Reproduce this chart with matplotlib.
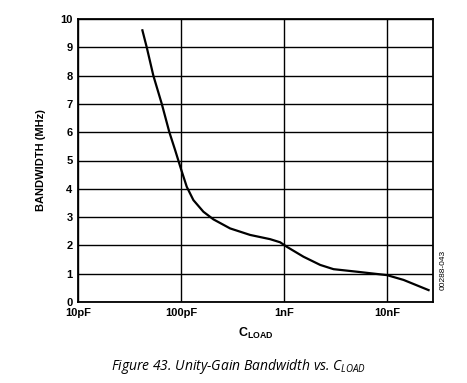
import matplotlib
matplotlib.use("Agg")
import matplotlib.pyplot as plt

# Unity-gain bandwidth vs. load capacitance
cload_pf = [42.2, 46.5, 53.9, 65.1, 77.1, 87.7, 100, 113.8, 132, 165, 206.5,
            300, 469, 734, 918, 1067, 1547, 2249, 3028, 5109, 7998, 10000,
            14500, 25360]
bw_mhz = [9.6, 9.0, 8.0, 7.0, 6.0, 5.37, 4.7, 4.07, 3.6, 3.19, 2.92,
          2.6, 2.37, 2.22, 2.11, 1.95, 1.6, 1.31, 1.16, 1.07, 0.99, 0.95,
          0.78, 0.42]

xticks = [10, 100, 1000, 10000]
xtick_labels = ['10pF', '100pF', '1nF', '10nF']
yticks = list(range(0, 11))

plt.rcParams['font.family'] = ['Liberation Sans', 'DejaVu Sans']
plt.rcParams['mathtext.fontset'] = 'custom'
plt.rcParams['mathtext.rm'] = 'Liberation Sans'
plt.rcParams['mathtext.bf'] = 'Liberation Sans:bold'
plt.rcParams['mathtext.it'] = 'Open Sans:italic'

fig = plt.figure(figsize=(4.67, 3.83), dpi=100)
ax = fig.add_axes([78 / 467, 1 - 302 / 383, (433 - 78) / 467, (302 - 19) / 383])

ax.plot(cload_pf, bw_mhz, color='black', lw=1.6, solid_joinstyle='round')
ax.set_xscale('log')
ax.set_xlim(10, 28000)
ax.set_ylim(0, 10)
ax.set_xticks(xticks)
ax.set_xticklabels(xtick_labels)
ax.minorticks_off()
ax.set_yticks(yticks)
ax.grid(True, color='black', lw=1.0)
ax.tick_params(length=0, labelsize=8, pad=4)
for lab in ax.get_xticklabels() + ax.get_yticklabels():
    lab.set_fontweight('bold')
for s in ax.spines.values():
    s.set_linewidth(1.3)

ax.set_ylabel('BANDWIDTH (MHz)', fontsize=8, fontweight='bold', labelpad=10)
ax.set_xlabel(r'$\mathbf{C_{LOAD}}$', fontsize=9, labelpad=6)

fig.text(443 / 467, 1 - 270 / 383, '00288-043', rotation=90, fontsize=6,
         ha='center', va='center')
fig.text(239 / 467, 1 - 367 / 383,
         r'Figure 43. Unity-Gain Bandwidth vs. $\mathit{C_{LOAD}}$',
         fontsize=10, style='italic', family='Open Sans', ha='center', va='center')

fig.savefig('out.png', dpi=100)
